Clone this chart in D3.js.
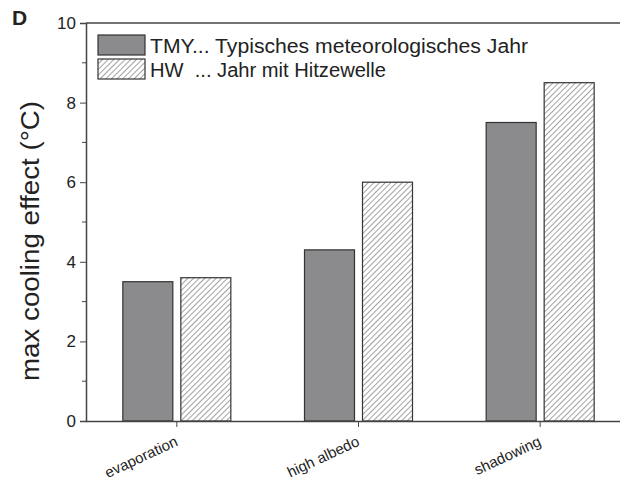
<!DOCTYPE html>
<html>
<head>
<meta charset="utf-8">
<script src="https://cdn.jsdelivr.net/npm/d3@7"></script>
<style>
  body { margin: 0; background: #fff; }
  text { font-family: Arial, "Liberation Sans", sans-serif; fill: #222; }
</style>
</head>
<body>
<div id="chart"></div>
<script>
var categories = ["evaporation", "high albedo", "shadowing"];
var tmyValues = [3.5, 4.3, 7.5];
var hwValues = [3.6, 6.0, 8.5];
var yTicks = [0, 2, 4, 6, 8, 10];
var legendLabels = ["TMY... Typisches meteorologisches Jahr", "HW  ... Jahr mit Hitzewelle"];

var svgWidth = 620;
var svgHeight = 491;
var margin = { top: 23, right: -11, bottom: 70, left: 86 };
var width = svgWidth - margin.left - margin.right;
var height = 398;

var svg = d3.select("#chart")
  .append("svg")
  .attr("width", svgWidth)
  .attr("height", svgHeight);

// hatch pattern for the HW bars
var defs = svg.append("defs");
var pat = defs.append("pattern")
  .attr("id", "hatch")
  .attr("patternUnits", "userSpaceOnUse")
  .attr("width", 4)
  .attr("height", 4)
  .attr("patternTransform", "rotate(45)");
pat.append("rect").attr("width", 4).attr("height", 4).attr("fill", "#fff");
pat.append("line")
  .attr("x1", 0).attr("y1", 0).attr("x2", 0).attr("y2", 4)
  .attr("stroke", "#555").attr("stroke-width", 1.1);

var chartGroup = svg.append("g")
  .attr("transform", `translate(${margin.left}, ${margin.top})`);

var xScale = d3.scaleBand()
  .domain(categories)
  .range([0, width])
  .padding(0);

var yScale = d3.scaleLinear()
  .domain([0, 10])
  .range([height, 0]);

var barW = 50;
var gap = 4;

// TMY bars
chartGroup.selectAll(".tmy")
  .data(categories)
  .enter()
  .append("rect")
  .attr("class", "tmy")
  .attr("x", d => xScale(d) + xScale.bandwidth() / 2 - gap - barW)
  .attr("y", (d, i) => yScale(tmyValues[i]))
  .attr("width", barW)
  .attr("height", (d, i) => height - yScale(tmyValues[i]))
  .attr("fill", "#8b8b8d")
  .attr("stroke", "#333")
  .attr("stroke-width", 1.2);

// HW bars
chartGroup.selectAll(".hw")
  .data(categories)
  .enter()
  .append("rect")
  .attr("class", "hw")
  .attr("x", d => xScale(d) + xScale.bandwidth() / 2 + gap)
  .attr("y", (d, i) => yScale(hwValues[i]))
  .attr("width", barW)
  .attr("height", (d, i) => height - yScale(hwValues[i]))
  .attr("fill", "url(#hatch)")
  .attr("stroke", "#333")
  .attr("stroke-width", 1.2);

// y axis with minor ticks
var minorTicks = d3.range(1, 10, 2);
chartGroup.selectAll(".minor")
  .data(minorTicks)
  .enter()
  .append("line")
  .attr("x1", -4).attr("x2", 0)
  .attr("y1", d => yScale(d)).attr("y2", d => yScale(d))
  .attr("stroke", "#444");

var leftAxis = d3.axisLeft(yScale)
  .tickValues(yTicks)
  .tickSize(6)
  .tickPadding(4)
  .tickFormat(d3.format("d"));
var yAxis = chartGroup.append("g").call(leftAxis);
yAxis.select(".domain").attr("stroke", "#444").attr("stroke-width", 1.5);
yAxis.selectAll(".tick line").attr("stroke", "#444");
yAxis.selectAll("text").attr("font-size", "17px").attr("fill", "#333");

// x axis
var bottomAxis = d3.axisBottom(xScale).tickSize(6).tickSizeOuter(0);
var xAxis = chartGroup.append("g")
  .attr("transform", `translate(0, ${height})`)
  .call(bottomAxis);
xAxis.select(".domain").attr("stroke", "#444").attr("stroke-width", 1.5);
xAxis.selectAll(".tick line").attr("stroke", "#444");
xAxis.selectAll("text")
  .attr("font-size", "15px")
  .attr("fill", "#333")
  .attr("text-anchor", "end")
  .attr("dy", 0)
  .attr("y", 0)
  .attr("transform", "translate(2, 24) rotate(-25)");

// top frame line
chartGroup.append("line")
  .attr("x1", 0).attr("x2", width)
  .attr("y1", 0).attr("y2", 0)
  .attr("stroke", "#444").attr("stroke-width", 1.5);

// legend
var legend = chartGroup.append("g").attr("transform", "translate(12, 12)");
var legFills = ["#8b8b8d", "url(#hatch)"];
var legLengths = [378, 236];
legendLabels.forEach(function(lbl, i) {
  legend.append("rect")
    .attr("x", 0).attr("y", i * 24)
    .attr("width", 47).attr("height", 20)
    .attr("fill", legFills[i])
    .attr("stroke", "#333")
    .attr("stroke-width", 1.2);
  legend.append("text")
    .attr("x", 52).attr("y", i * 24 + 18)
    .attr("font-size", "20px")
    .attr("xml:space", "preserve")
    .attr("textLength", legLengths[i])
    .attr("lengthAdjust", "spacingAndGlyphs")
    .text(lbl);
});

// y label
svg.append("text")
  .attr("transform", "translate(39, 241) rotate(-90)")
  .attr("text-anchor", "middle")
  .attr("font-size", "25px")
  .attr("textLength", 280)
  .attr("lengthAdjust", "spacingAndGlyphs")
  .text("max cooling effect (°C)");

// panel letter
svg.append("text")
  .attr("x", 12).attr("y", 25)
  .attr("font-size", "21px")
  .attr("font-weight", "bold")
  .text("D");
</script>
</body>
</html>
